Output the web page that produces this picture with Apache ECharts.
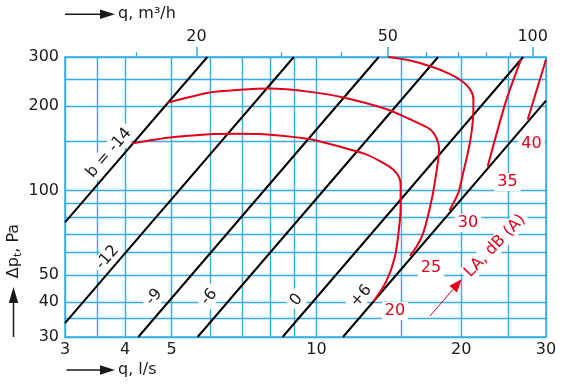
<!DOCTYPE html>
<html>
<head>
<meta charset="UTF-8">
<title>q - Δp</title>
<script src="https://cdn.jsdelivr.net/npm/echarts@6/dist/echarts.min.js"></script>
<style>
  html, body { margin: 0; padding: 0; background: #fff; }
  #chart { width: 561px; height: 385px; }
</style>
</head>
<body>
<div id="chart"></div>
<script>
// axis grid / tick values
const qGrid = [3, 3.5, 4, 5, 6, 7, 8, 9, 10, 15, 20, 25, 30];
const qLabels = [3, 4, 5, 10, 20, 30];
const pGrid = [30, 35, 40, 50, 60, 70, 80, 90, 100, 150, 200, 250, 300];
const pLabels = [30, 40, 50, 100, 200, 300];
const m3hMinor = [15, 30, 40, 60, 70, 80, 90];
const m3hLabels = [20, 50, 100];

// b lines, [q l/s, dp Pa] end points
const bNames = ['b = -14', '-12', '-9', '-6', '0', '+6'];
const bLines = [
  [[3, 77], [5.93, 300]],
  [[3, 33.6], [8.97, 300]],
  [[4.26, 30], [13.47, 300]],
  [[5.66, 30], [17.9, 300]],
  [[8.5, 30], [26.9, 300]],
  [[11.35, 30], [30, 209.6]]
];

// LA dB(A) curves
const laNames = ['20', '25', '30', '35', '40'];
const la20 = [[4.13, 147.2], [4.96, 154.6], [6.0, 158.9], [6.93, 159.5], [8.0, 158.3], [9.69, 152.5],
  [11.33, 142.6], [12.6, 135.3], [13.55, 127.5], [14.44, 119], [14.86, 111.2], [14.96, 103.7],
  [14.96, 87.9], [14.86, 74.6], [14.56, 58.2], [13.95, 47.2], [13.12, 40.1]];
const la25 = [[4.92, 206.4], [6.0, 224.1], [6.93, 229], [8.0, 231.3], [9.69, 225.2], [11.37, 215.1],
  [14.0, 195.3], [15.64, 179.9], [17.22, 165.6], [17.8, 152.5], [17.98, 140.4], [17.83, 122.3],
  [17.36, 92.9], [16.67, 70.6], [16.15, 63.2], [15.64, 58.5]];
const la30 = [[14.1, 300], [15.64, 291.5], [17.49, 275.6], [18.95, 260.7], [20.03, 246.7], [20.85, 230.3],
  [21.19, 212.1], [21.19, 195.3], [21.1, 172.6], [20.9, 152.5], [20.6, 134.7], [20.21, 117.1],
  [19.73, 98.5], [18.9, 84.9]];
const la35 = [[22.69, 122], [24.77, 208.7], [26.62, 294.3]];
const la40 = [[27.49, 179.4], [30, 294]];

const BLUE = '#35ade2';
const RED = '#e2001a';
const INK = '#1a1a1a';
const FONT = 'DejaVu Sans';

const chart = echarts.init(document.getElementById('chart'));

const series = [];
bLines.forEach((d, i) => {
  series.push({
    name: bNames[i], type: 'line', data: d, symbol: 'none', silent: true,
    lineStyle: { color: '#000', width: 2 }, z: 3
  });
});
[la20, la25, la30, la35, la40].forEach((d, i) => {
  series.push({
    name: laNames[i], type: 'line', data: d, symbol: 'none', silent: true, smooth: 0.25,
    lineStyle: { color: RED, width: 2 }, z: 4
  });
});

function txt(text, x, y, color, deg, bg) {
  return {
    type: 'text', x: x, y: y, rotation: (deg || 0) * Math.PI / 180, z: 100,
    style: {
      text: text, fill: color, fontSize: 16, fontFamily: FONT,
      align: 'center', verticalAlign: 'middle',
      backgroundColor: bg ? '#fff' : null, padding: bg ? [1, 3] : 0
    }
  };
}
function arrow(x1, y1, x2, y2, color, w, head, half) {
  const dx = x2 - x1, dy = y2 - y1, len = Math.sqrt(dx * dx + dy * dy);
  const ux = dx / len, uy = dy / len;
  const bx = x2 - ux * head, by = y2 - uy * head;
  return [
    { type: 'line', z: 100, shape: { x1: x1, y1: y1, x2: bx, y2: by }, style: { stroke: color, lineWidth: w } },
    { type: 'polygon', z: 100, shape: { points: [[x2, y2], [bx - uy * half, by + ux * half], [bx + uy * half, by - ux * half]] },
      style: { fill: color } }
  ];
}

const graphics = [
  txt('b = -14', 109, 153, INK, 49, true),
  txt('-12', 107.5, 257.5, INK, 49, true),
  txt('-9', 154, 297, INK, 49, true),
  txt('-6', 209, 297, INK, 49, true),
  txt('0', 296.5, 300, INK, 49, true),
  txt('+6', 361, 296, INK, 49, true),
  txt('20', 395, 311, RED, 0, true),
  txt('25', 431, 268, RED, 0, true),
  txt('30', 468, 223, RED, 0, true),
  txt('35', 507.5, 182, RED, 0, true),
  txt('40', 531.5, 144, RED, 0, true),
  txt('LA, dB (A)', 495, 246, RED, 46, true),
  { type: 'text', x: 118, y: 14, z: 100,
    style: { text: 'q, m³/h', fill: INK, fontSize: 16, fontFamily: FONT, align: 'left', verticalAlign: 'middle' } },
  { type: 'text', x: 118, y: 370, z: 100,
    style: { text: 'q, l/s', fill: INK, fontSize: 16, fontFamily: FONT, align: 'left', verticalAlign: 'middle' } },
  { type: 'text', x: 14, y: 251, z: 100, rotation: Math.PI / 2,
    style: {
      text: '{a|Δp}{s|t}{a|, Pa}', align: 'center', verticalAlign: 'middle',
      rich: {
        a: { fill: INK, fontSize: 16, fontFamily: FONT },
        s: { fill: INK, fontSize: 11, fontFamily: FONT, padding: [8, 0, 0, 0] }
      }
    } }
].concat(
  arrow(65, 14.3, 115, 14.3, INK, 1.5, 15, 4.7),
  arrow(66.5, 370, 115, 370, INK, 1.5, 15, 4.7),
  arrow(13.5, 337, 13.5, 287, INK, 1.5, 16, 4.7),
  arrow(430, 316, 461.7, 279.3, RED, 1, 13, 5)
);

chart.setOption({
  animation: false,
  backgroundColor: '#fff',
  grid: { left: 65, right: 15, top: 57, bottom: 48, show: false },
  xAxis: [
    {
      type: 'log', min: 3, max: 30, position: 'bottom',
      axisLine: { show: true, lineStyle: { color: BLUE, width: 1.5 } },
      axisTick: { show: false, customValues: qGrid },
      splitLine: { show: true, lineStyle: { color: BLUE, width: 1.4 } },
      axisLabel: { customValues: qLabels, margin: 5, color: INK, fontSize: 16, fontFamily: FONT }
    },
    {
      type: 'log', min: 10.66, max: 106.6, position: 'top',
      axisLine: { show: true, lineStyle: { color: BLUE, width: 1.5 } },
      axisTick: { show: true, customValues: m3hMinor, length: 5, lineStyle: { color: BLUE, width: 1.3 } },
      splitLine: { show: false },
      axisLabel: { show: false }
    },
    {
      type: 'log', min: 10.66, max: 106.6, position: 'top',
      axisLine: { show: false },
      axisTick: { show: true, customValues: m3hLabels, length: 10, lineStyle: { color: BLUE, width: 1.5 } },
      splitLine: { show: false },
      axisLabel: { customValues: m3hLabels, margin: 12, color: INK, fontSize: 16, fontFamily: FONT }
    }
  ],
  yAxis: [
    {
      type: 'log', min: 30, max: 300, position: 'left',
      axisLine: { show: true, lineStyle: { color: BLUE, width: 1.5 } },
      axisTick: { show: false, customValues: pGrid },
      splitLine: { show: true, lineStyle: { color: BLUE, width: 1.4 } },
      axisLabel: { customValues: pLabels, margin: 6, color: INK, fontSize: 16, fontFamily: FONT }
    },
    {
      type: 'log', min: 30, max: 300, position: 'right',
      axisLine: { show: true, lineStyle: { color: BLUE, width: 1.5 } },
      axisTick: { show: false }, splitLine: { show: false }, axisLabel: { show: false }
    }
  ],
  series: series,
  graphic: graphics
});
</script>
</body>
</html>
